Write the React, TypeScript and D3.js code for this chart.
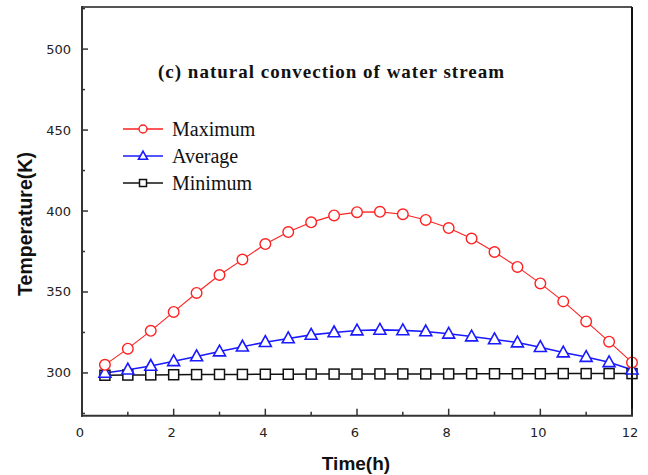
import React from "react";
import * as d3 from "d3";

// Time axis (hours) and the three temperature series (K)
const hours = [0.5, 1, 1.5, 2, 2.5, 3, 3.5, 4, 4.5, 5, 5.5, 6, 6.5, 7, 7.5, 8, 8.5, 9, 9.5, 10, 10.5, 11, 11.5, 12];
const maximum = [305, 315, 326, 337.7, 349.4, 360.5, 370, 379.6, 387, 393, 397.3, 399.3, 399.5, 398, 394.5, 389.5, 383, 374.7, 365.5, 355.3, 344.2, 331.8, 319.3, 306.5];
const average = [300, 302, 304.3, 307.2, 310.2, 313.2, 316.2, 319, 321.3, 323.5, 325, 326.2, 326.6, 326.3, 325.6, 324.2, 322.5, 320.7, 318.8, 315.9, 312.6, 309.8, 306.6, 302];
const minimum = [298.6, 298.7, 298.8, 298.9, 299, 299.1, 299.1, 299.2, 299.2, 299.3, 299.3, 299.3, 299.4, 299.4, 299.4, 299.4, 299.5, 299.5, 299.5, 299.5, 299.6, 299.6, 299.6, 299.6];

const xTicks = [0, 2, 4, 6, 8, 10, 12];
const xMinor = [1, 3, 5, 7, 9, 11];
const yTicks = [300, 350, 400, 450, 500];
const yMinor = [275, 325, 375, 425, 475, 525];

const seriesNames = ["Maximum", "Average", "Minimum"];
const title = "(c) natural convection of water stream";

const W = 648;
const H = 475;
const left = 82;
const right = 632;
const top = 7;
const bottom = 415.7;

export default function App() {
  const x = d3.scaleLinear().domain([0, 12]).range([left, right]);
  const y = d3.scaleLinear().domain([273.6, 526]).range([bottom, top]);

  const line = d3
    .line<number>()
    .x((_, i) => x(hours[i]))
    .y((d) => y(d));

  const circle = (cx: number, cy: number, r: number, key: string) => (
    <circle key={key} cx={cx} cy={cy} r={r} fill="white" stroke="#ff2020" strokeWidth={1.4} />
  );
  const triangle = (cx: number, cy: number, s: number, key: string) => {
    const h = s * 0.9;
    return (
      <path
        key={key}
        d={`M${cx},${cy - h * 0.6}L${cx + s / 2},${cy + h * 0.4}L${cx - s / 2},${cy + h * 0.4}Z`}
        fill="white"
        stroke="#1a1aff"
        strokeWidth={1.6}
      />
    );
  };
  const square = (cx: number, cy: number, s: number, key: string) => (
    <rect key={key} x={cx - s / 2} y={cy - s / 2} width={s} height={s} fill="white" stroke="#111" strokeWidth={1.5} />
  );

  const legendY = [129, 156, 183];
  const tickFont = "'DejaVu Sans', Verdana, sans-serif";
  const labelFont = "'Liberation Sans', Arial, sans-serif";

  return (
    <svg width={W} height={H} style={{ position: "absolute", left: 0, top: 0, background: "white" }}>
      <rect x={0} y={0} width={W} height={H} fill="white" />

      {/* series */}
      <g>
        <path d={line(minimum) || ""} fill="none" stroke="#111" strokeWidth={1.5} />
        <path d={line(average) || ""} fill="none" stroke="#1a1aff" strokeWidth={1.6} />
        <path d={line(maximum) || ""} fill="none" stroke="#ff2020" strokeWidth={1.1} />
        {minimum.map((v, i) => square(x(hours[i]), y(v), 10, `s${i}`))}
        {average.map((v, i) => triangle(x(hours[i]), y(v), 12, `t${i}`))}
        {maximum.map((v, i) => circle(x(hours[i]), y(v), 5.3, `c${i}`))}
      </g>

      {/* frame */}
      <line x1={left} x2={right} y1={top} y2={top} stroke="#555" strokeWidth={2} />
      <line x1={right} x2={right} y1={top} y2={bottom} stroke="#111" strokeWidth={2} />
      <line x1={left} x2={left} y1={top - 1} y2={bottom + 1} stroke="#333" strokeWidth={2} />
      <line x1={left - 1} x2={right + 1} y1={bottom} y2={bottom} stroke="#333" strokeWidth={2} />

      {/* x ticks */}
      {xTicks.map((t) => (
        <g key={`xt${t}`}>
          <line x1={x(t)} x2={x(t)} y1={bottom} y2={bottom - 7} stroke="#333" strokeWidth={1.5} />
          <text x={x(t) - 2} y={432} textAnchor="middle" dominantBaseline="central" fontFamily={tickFont} fontSize={13} fill="#222">
            {t}
          </text>
        </g>
      ))}
      {xMinor.map((t) => (
        <line key={`xm${t}`} x1={x(t)} x2={x(t)} y1={bottom} y2={bottom - 4} stroke="#333" strokeWidth={1.5} />
      ))}

      {/* y ticks */}
      {yTicks.map((t) => (
        <g key={`yt${t}`}>
          <line x1={left} x2={left + 6} y1={y(t)} y2={y(t)} stroke="#333" strokeWidth={1.5} />
          <text x={71} y={y(t)} textAnchor="end" dominantBaseline="central" fontFamily={tickFont} fontSize={13} fill="#222">
            {t}
          </text>
        </g>
      ))}
      {yMinor.map((t) => (
        <line key={`ym${t}`} x1={left} x2={left + 3} y1={y(t)} y2={y(t)} stroke="#333" strokeWidth={1.5} />
      ))}

      {/* axis titles */}
      <text x={356} y={463} textAnchor="middle" dominantBaseline="central" fontFamily={labelFont} fontWeight="bold" fontSize={19} fill="#111">
        Time(h)
      </text>
      <text
        transform="translate(25,224) rotate(-90)"
        textAnchor="middle"
        dominantBaseline="central"
        fontFamily={labelFont}
        fontWeight="bold"
        fontSize={19.5}
        fill="#111"
      >
        Temperature(K)
      </text>

      {/* chart title */}
      <text x={158} y={78} fontFamily="'Liberation Serif', 'Times New Roman', serif" fontWeight="bold" fontSize={19} letterSpacing={1.0} fill="#111">
        {title}
      </text>

      {/* legend */}
      {seriesNames.map((name, i) => {
        const ly = legendY[i];
        const colors = ["#ff2020", "#1a1aff", "#111"];
        return (
          <g key={name}>
            <line x1={123} x2={163} y1={ly} y2={ly} stroke={colors[i]} strokeWidth={1.3} />
            {i === 0 && circle(143, ly, 4, "lc")}
            {i === 1 && triangle(143, ly, 9, "lt")}
            {i === 2 && square(143, ly, 7, "ls")}
            <text x={172} y={ly} dominantBaseline="central" fontFamily="'Liberation Serif', 'Times New Roman', serif" fontSize={20} fill="#111">
              {name}
            </text>
          </g>
        );
      })}
    </svg>
  );
}
